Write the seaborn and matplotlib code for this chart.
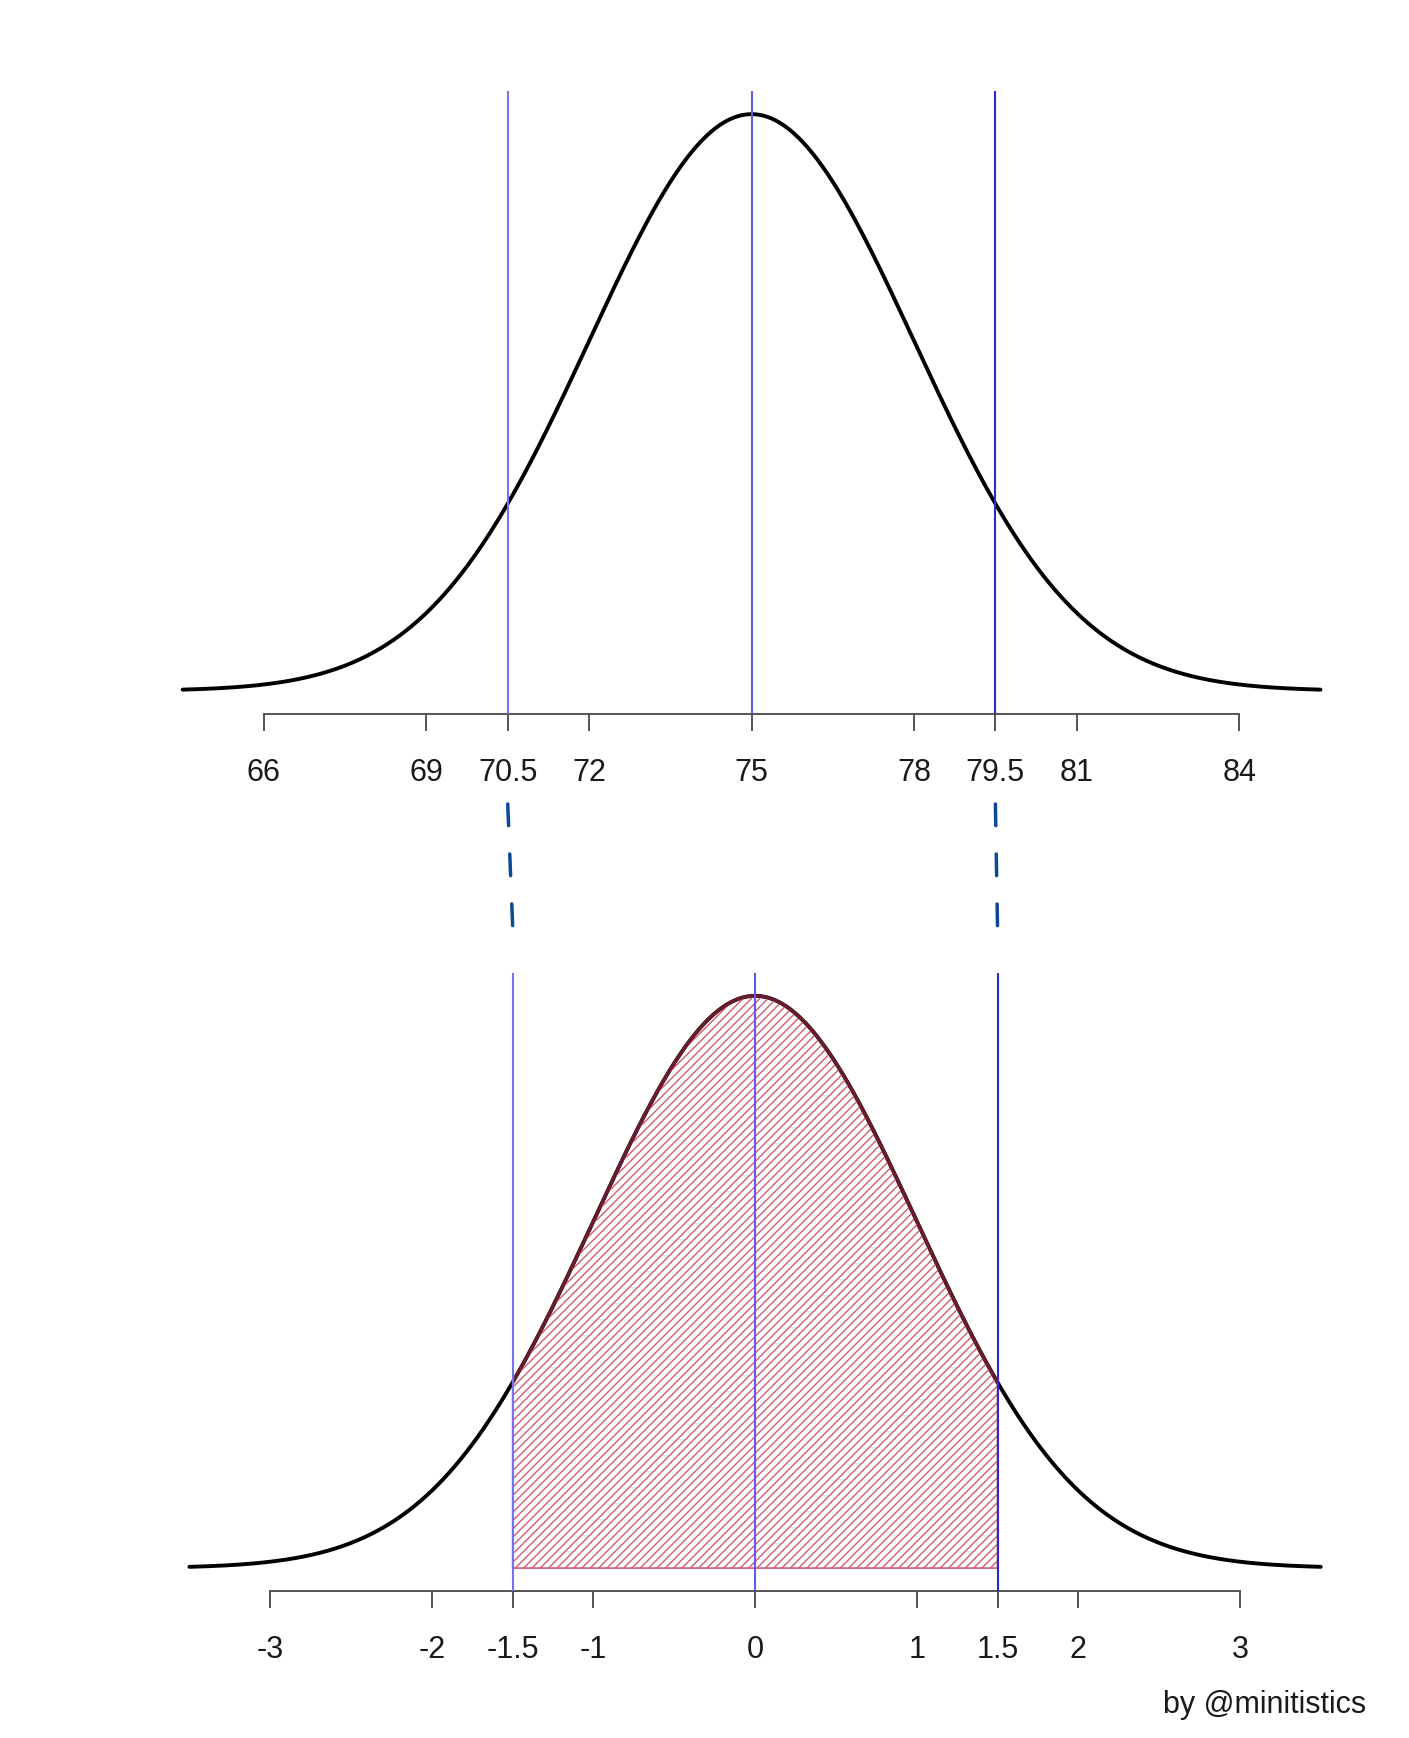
import numpy as np
import pandas as pd
import matplotlib
matplotlib.use("Agg")
import matplotlib.pyplot as plt
from matplotlib.lines import Line2D
import seaborn as sns

# Distribution parameters and the interval of interest
MEAN = 75
SD = 3
LOWER = 70.5
UPPER = 79.5
TAIL = 3.5  # curve drawn out to +/- 3.5 standard deviations

top_ticks = [66, 69, 70.5, 72, 75, 78, 79.5, 81, 84]
top_tick_labels = ["66", "69", "70.5", "72", "75", "78", "79.5", "81", "84"]
bottom_ticks = [-3, -2, -1.5, -1, 0, 1, 1.5, 2, 3]
bottom_tick_labels = ["-3", "-2", "-1.5", "-1", "0", "1", "1.5", "2", "3"]

credit = "by @minitistics"

sns.set_style("white")
plt.rcParams["font.family"] = ["Liberation Sans", "DejaVu Sans"]
plt.rcParams["hatch.linewidth"] = 1.0
plt.rcParams["lines.scale_dashes"] = False

z_lo = (LOWER - MEAN) / SD
z_hi = (UPPER - MEAN) / SD


def normal_pdf(x, mu, sd):
    return np.exp(-0.5 * ((x - mu) / sd) ** 2) / (sd * np.sqrt(2 * np.pi))


x_raw = np.linspace(MEAN - TAIL * SD, MEAN + TAIL * SD, 600)
raw = pd.DataFrame({"x": x_raw, "density": normal_pdf(x_raw, MEAN, SD)})
z = np.linspace(-TAIL, TAIL, 600)
std = pd.DataFrame({"z": z, "density": normal_pdf(z, 0, 1)})

fig = plt.figure(figsize=(14.09, 17.38), dpi=100)
ax1 = fig.add_axes([0.0997, 0.5892, 0.8674, 0.3584])
ax2 = fig.add_axes([0.1047, 0.0846, 0.8624, 0.3556])

AXIS_COL = "#474747"
V_COLS = ["#7272f2", "#5c5ce6", "#2a2acc"]
LABEL_SIZE = 22
CURVE_LW = 2.8


def style_axis(ax, ticks, labels, xlim, peak):
    pad = 0.04 * (xlim[1] - xlim[0]) / 1.08
    ax.set_xlim(xlim[0] - pad, xlim[1] + pad)
    ax.set_ylim(-0.04 * peak, 1.04 * peak)
    for side in ["top", "left", "right"]:
        ax.spines[side].set_visible(False)
    ax.spines["bottom"].set_bounds(ticks[0], ticks[-1])
    ax.spines["bottom"].set_color(AXIS_COL)
    ax.spines["bottom"].set_linewidth(1.3)
    ax.set_xticks(ticks)
    ax.set_xticklabels(labels)
    ax.tick_params(axis="x", direction="out", length=12, width=1.3,
                   color=AXIS_COL, labelsize=LABEL_SIZE, labelcolor="#1a1a1a",
                   pad=20, bottom=True)
    ax.set_yticks([])
    ax.set_xlabel("")
    ax.set_ylabel("")
    ax.set_facecolor("white")


# Top panel: raw scores
sns.lineplot(data=raw, x="x", y="density", ax=ax1, color="black",
             linewidth=CURVE_LW, legend=False)
for v, c in zip([LOWER, MEAN, UPPER], V_COLS):
    ax1.axvline(v, color=c, linewidth=1.5, zorder=3)
style_axis(ax1, top_ticks, top_tick_labels,
           (MEAN - TAIL * SD, MEAN + TAIL * SD), normal_pdf(MEAN, MEAN, SD))

# Bottom panel: standardised scores with the shaded interval
sns.lineplot(data=std, x="z", y="density", ax=ax2, color="black",
             linewidth=CURVE_LW, legend=False)
inside = std[(std["z"] >= z_lo) & (std["z"] <= z_hi)]
zx = np.concatenate([[z_lo], inside["z"].to_numpy(), [z_hi]])
zy = np.concatenate([[normal_pdf(z_lo, 0, 1)], inside["density"].to_numpy(),
                     [normal_pdf(z_hi, 0, 1)]])
ax2.fill_between(zx, 0, zy, facecolor="none", edgecolor="#d45a74",
                 hatch="////", linewidth=1.2, zorder=2)
ax2.plot(zx, zy, color="#6a1c2c", linewidth=2.4, zorder=2.5)
for v, c in zip([z_lo, 0, z_hi], V_COLS):
    ax2.axvline(v, color=c, linewidth=1.5, zorder=3)
style_axis(ax2, bottom_ticks, bottom_tick_labels, (-TAIL, TAIL),
           normal_pdf(0, 0, 1))

# Dashed links from the raw bounds to their z-scores
to_fig = fig.transFigure.inverted()
for raw_v, z_v in [(LOWER, z_lo), (UPPER, z_hi)]:
    x_top = to_fig.transform(ax1.transData.transform((raw_v, 0)))[0]
    x_bot = to_fig.transform(ax2.transData.transform((z_v, 0)))[0]
    link = Line2D([x_top, x_bot], [1 - 804 / 1738, 1 - 926 / 1738],
                  transform=fig.transFigure, color="#0b4a96", linewidth=2.5,
                  dashes=(15.6, 20.4), dash_capstyle="round")
    fig.add_artist(link)

fig.text(0.9695, 1 - 1713 / 1738, credit, ha="right", va="baseline",
         fontsize=LABEL_SIZE, color="#1a1a1a")

fig.savefig("out.png", dpi=100, facecolor="white")
